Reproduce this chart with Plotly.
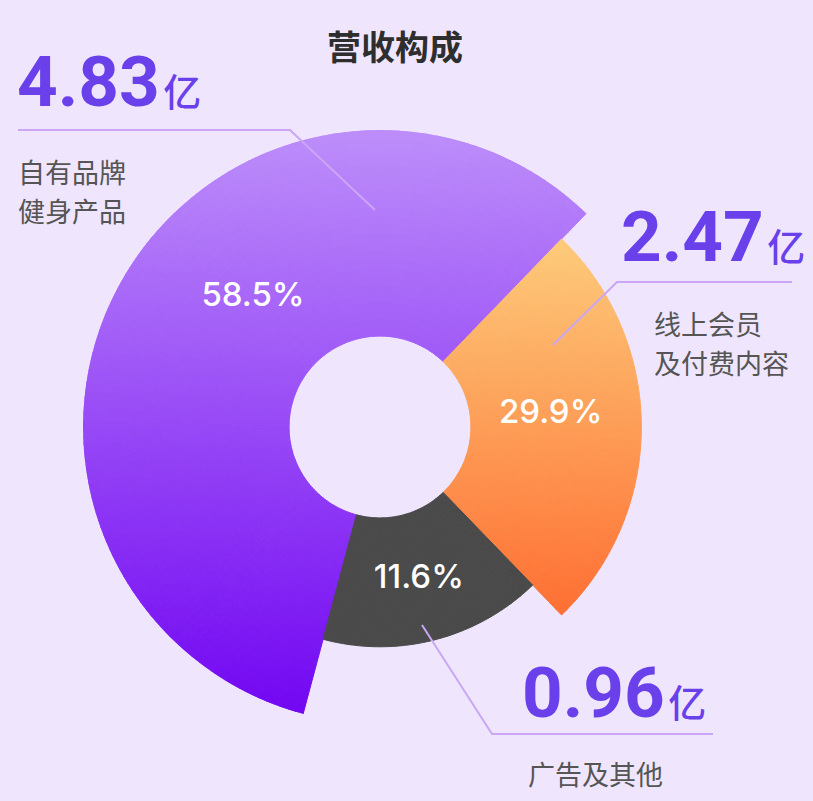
import numpy as np
import plotly.graph_objects as go

# revenue split
categories = ["自有品牌健身产品", "线上会员及付费内容", "广告及其他"]
label_lines = [["自有品牌", "健身产品"], ["线上会员", "及付费内容"], ["广告及其他"]]
revenue = [4.83, 2.47, 0.96]          # 亿
share = [58.5, 29.9, 11.6]            # %
sector_deg = [209, 92, 59]            # angular extent as drawn
outer_r = [100, 88, 74]               # outer radius as drawn (purple = 100)

W, H = 813, 801
CX, CY, R = 380, 427, 297
HOLE = 30.6
START = -165
BG = "#efe6fd"
grad = [("#bd8efa", "#7206f2"), ("#fdcb7b", "#fe6f33"), ("#4a4a4a", "#4a4a4a")]


def hex2rgb(c):
    c = c.lstrip("#")
    return np.array([int(c[i:i + 2], 16) for i in (0, 2, 4)], dtype=float)


def mix(c1, c2, t):
    v = hex2rgb(c1) * (1 - t) + hex2rgb(c2) * t
    return "rgb(%d,%d,%d)" % tuple(np.round(v))


fig = go.Figure()

a0 = START
for i, cat in enumerate(categories):
    a1 = a0 + sector_deg[i]
    n_t = int(np.ceil(sector_deg[i] / 1.5))
    n_r = int(np.ceil((outer_r[i] - HOLE) / 3.0))
    t_edges = np.linspace(a0, a1, n_t + 1)
    r_edges = np.linspace(HOLE, outer_r[i], n_r + 1)
    tc = (t_edges[:-1] + t_edges[1:]) / 2
    rc = (r_edges[:-1] + r_edges[1:]) / 2
    dr = r_edges[1] - r_edges[0]
    TT, RR = np.meshgrid(tc, rc)
    # vertical gradient: colour follows height on screen
    yy = RR * np.cos(np.radians(TT))
    ta = np.linspace(a0, a1, 200)
    ys = np.concatenate([outer_r[i] * np.cos(np.radians(ta)), HOLE * np.cos(np.radians(ta))])
    ytop, ybot = ys.max(), ys.min()
    cols = [mix(grad[i][0], grad[i][1], (ytop - y) / (ytop - ybot)) for y in yy.ravel()]
    fig.add_trace(go.Barpolar(
        theta=TT.ravel(), r=np.full(TT.size, dr),
        base=RR.ravel() - dr / 2,
        width=np.full(TT.size, t_edges[1] - t_edges[0]),
        marker=dict(color=cols, line=dict(color=cols, width=1)),
        name=cat, hoverinfo="skip", showlegend=False,
    ))
    a0 = a1

# percentage labels inside sectors
lab_theta = [-44.5, 86, 165.7]
lab_r = [61, 57.6, 53]
fig.add_trace(go.Scatterpolar(
    theta=lab_theta, r=lab_r, mode="text",
    text=["%.1f%%" % s for s in share],
    textfont=dict(family="Inter, Roboto, sans-serif", size=33, color="white", weight=500),
    hoverinfo="skip", showlegend=False,
))

fig.update_layout(
    width=W, height=H, autosize=False,
    margin=dict(l=0, r=0, t=0, b=0),
    paper_bgcolor=BG, plot_bgcolor=BG,
    polar=dict(
        domain=dict(x=[(CX - R) / W, (CX + R) / W], y=[1 - (CY + R) / H, 1 - (CY - R) / H]),
        bgcolor="rgba(0,0,0,0)", bargap=0,
        radialaxis=dict(range=[0, 100], visible=False),
        angularaxis=dict(rotation=90, direction="clockwise", visible=False),
    ),
)


def px(x):
    return x / W


def py(y):
    return 1 - y / H


# leader lines
leaders = [
    [(375, 210), (290, 130), (18, 130)],
    [(553, 345), (617, 282), (792, 282)],
    [(422, 625), (492, 734), (713, 734)],
]
for pts in leaders:
    path = "M %f,%f " % (px(pts[0][0]), py(pts[0][1])) + " ".join(
        "L %f,%f" % (px(x), py(y)) for x, y in pts[1:])
    fig.add_shape(type="path", path=path, xref="paper", yref="paper",
                  line=dict(color="#caa6f4", width=2))

ann = []
ann.append(dict(x=px(395), y=py(45), text="营收构成", xanchor="center", yanchor="middle",
                font=dict(family="Noto Sans CJK SC", size=34, color="#2e2e2e", weight=700)))

value_pos = [(15, 81), (619, 236), (520, 692)]
label_pos = [[(16, 172), (16, 211)], [(652, 323), (652, 362)], [(526, 773)]]
for i in range(3):
    vx, vy = value_pos[i]
    ann.append(dict(
        x=px(vx), y=py(vy), xanchor="left", yanchor="middle",
        text=("%.2f<span style='font-size:14px'> </span>"
              "<span style='font-size:38px;font-family:Noto Sans CJK SC;font-weight:500'>亿</span>") % revenue[i],
        font=dict(family="Roboto, sans-serif", size=71, color="#6a40ea", weight=700),
    ))
    for line, (lx, ly) in zip(label_lines[i], label_pos[i]):
        ann.append(dict(x=px(lx), y=py(ly), xanchor="left", yanchor="middle", text=line,
                        font=dict(family="Noto Sans CJK SC", size=27, color="#555555")))

for a in ann:
    a.update(xref="paper", yref="paper", showarrow=False)
fig.update_layout(annotations=ann)

fig.write_html("out.html", config={"displayModeBar": False},
               post_script="document.body.style.margin='0';")
